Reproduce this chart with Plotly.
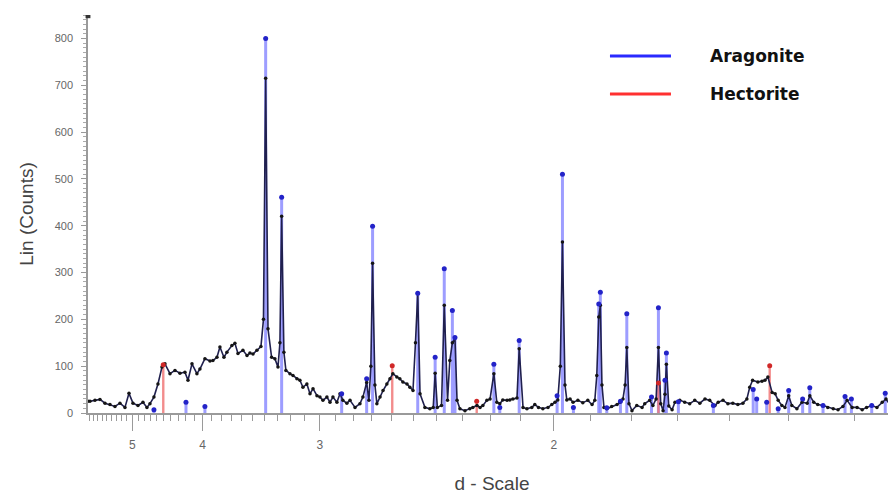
import plotly.graph_objects as go

# ---------------- data (d-spacing in Angstrom, intensity in counts) ----------------
pattern_d = [5.941, 5.891, 5.770, 5.654, 5.542, 5.435, 5.332, 5.233, 5.137, 5.063,
             4.991, 4.904, 4.820, 4.755, 4.707, 4.645, 4.584, 4.525, 4.482, 4.411,
             4.343, 4.277, 4.213, 4.175, 4.126, 4.067, 4.032, 3.975, 3.919, 3.887,
             3.844, 3.813, 3.772, 3.742, 3.693, 3.664, 3.635, 3.589, 3.552, 3.526,
             3.499, 3.465, 3.431, 3.410, 3.392, 3.373, 3.344, 3.318, 3.294, 3.279,
             3.266, 3.249, 3.234, 3.204, 3.182, 3.154, 3.133, 3.112, 3.085, 3.064,
             3.044, 3.018, 2.999, 2.980, 2.955, 2.936, 2.918, 2.894, 2.876, 2.859,
             2.836, 2.818, 2.790, 2.763, 2.747, 2.727, 2.715, 2.705, 2.696, 2.684,
             2.674, 2.658, 2.643, 2.624, 2.609, 2.595, 2.576, 2.562, 2.548, 2.529,
             2.516, 2.502, 2.491, 2.481, 2.471, 2.450, 2.429, 2.415, 2.407, 2.398,
             2.381, 2.370, 2.357, 2.348, 2.338, 2.328, 2.320, 2.309, 2.290, 2.272,
             2.261, 2.246, 2.235, 2.225, 2.211, 2.200, 2.187, 2.177, 2.167, 2.157,
             2.143, 2.134, 2.124, 2.111, 2.104, 2.092, 2.080, 2.065, 2.056, 2.045,
             2.032, 2.017, 2.006, 1.997, 1.989, 1.982, 1.976, 1.969, 1.964, 1.955,
             1.947, 1.934, 1.921, 1.908, 1.897, 1.890, 1.885, 1.880, 1.876, 1.872,
             1.867, 1.860, 1.848, 1.835, 1.828, 1.821, 1.816, 1.812, 1.807, 1.800,
             1.789, 1.777, 1.771, 1.760, 1.753, 1.746, 1.741, 1.736, 1.731, 1.727,
             1.724, 1.719, 1.712, 1.706, 1.696, 1.686, 1.676, 1.666, 1.656, 1.646,
             1.637, 1.627, 1.621, 1.612, 1.603, 1.594, 1.585, 1.576, 1.569, 1.564,
             1.559, 1.550, 1.543, 1.538, 1.533, 1.526, 1.521, 1.516, 1.510, 1.505,
             1.499, 1.494, 1.486, 1.478, 1.470, 1.466, 1.460, 1.454, 1.446, 1.439,
             1.431, 1.424, 1.417, 1.411, 1.404, 1.397, 1.390, 1.384, 1.377, 1.370,
             1.363, 1.358, 1.353, 1.346]
pattern_counts = [25, 25, 27, 29, 21, 18, 14, 21, 12, 42,
                  21, 16, 23, 12, 20, 34, 62, 98, 105, 84,
                  91, 85, 87, 70, 105, 84, 94, 116, 111, 112,
                  119, 141, 119, 130, 144, 149, 127, 134, 123, 128,
                  126, 134, 142, 200, 715, 180, 119, 116, 98, 150,
                  420, 130, 91, 84, 80, 73, 70, 55, 62, 41,
                  52, 37, 34, 27, 34, 23, 34, 23, 41, 27,
                  21, 27, 12, 20, 34, 65, 27, 100, 320, 60,
                  20, 34, 48, 62, 73, 84, 77, 73, 66, 62,
                  55, 48, 150, 255, 41, 12, 9, 12, 85, 12,
                  16, 230, 27, 112, 150, 160, 27, 9, 5, 9,
                  12, 16, 12, 16, 27, 30, 84, 23, 20, 28,
                  27, 28, 30, 32, 137, 12, 9, 12, 18, 12,
                  9, 12, 18, 23, 28, 100, 365, 60, 28, 30,
                  23, 27, 22, 27, 18, 27, 80, 205, 230, 60,
                  12, 9, 14, 18, 23, 30, 60, 140, 20, 5,
                  16, 12, 20, 27, 16, 30, 140, 20, 5, 40,
                  104, 15, 7, 23, 27, 23, 20, 27, 21, 30,
                  27, 16, 23, 27, 20, 21, 18, 21, 30, 55,
                  70, 66, 68, 70, 77, 44, 41, 27, 16, 12,
                  37, 16, 9, 23, 21, 37, 23, 18, 16, 12,
                  9, 7, 14, 27, 12, 12, 7, 12, 16, 12,
                  23, 30, 18, 12]

aragonite_d = [4.645, 4.200, 3.975, 3.392, 3.266, 2.866, 2.727, 2.696, 2.481, 2.407,
               2.370, 2.338, 2.328, 2.187, 2.167, 2.104, 1.991, 1.976, 1.946, 1.880,
               1.876, 1.860, 1.827, 1.812, 1.756, 1.741, 1.727, 1.724, 1.699, 1.630,
               1.558, 1.552, 1.535, 1.516, 1.499, 1.477, 1.466, 1.446, 1.414, 1.405,
               1.377, 1.359, 1.351]
aragonite_counts = [7, 23, 14, 800, 461, 41, 73, 399, 256, 119,
                    308, 219, 161, 104, 12, 155, 37, 510, 12, 233,
                    258, 11, 25, 212, 34, 225, 70, 128, 24, 16,
                    50, 30, 23, 9, 48, 30, 54, 16, 35, 30,
                    16, 42, 16]

hectorite_d = [4.506, 2.598, 2.247, 1.741, 1.530]
hectorite_counts = [103, 101, 25, 64, 101]

major_ticks_d = [5, 4, 3, 2]
major_tick_labels = ["5", "4", "3", "2"]
minor_ticks_d = [round(5.9 - 0.1 * i, 1) for i in range(46)]
y_ticks = [0, 100, 200, 300, 400, 500, 600, 700, 800]
legend_names = ["Aragonite", "Hectorite"]

# ---------------- build figure (x axis linear in 1/d) ----------------
inv = lambda d: 1.0 / d


def sticks(ds, cs):
    xs, ys = [], []
    for d, c in zip(ds, cs):
        xs += [inv(d), inv(d), None]
        ys += [0, c, None]
    return xs, ys


fig = go.Figure()

ax, ay = sticks(aragonite_d, aragonite_counts)
fig.add_trace(go.Scatter(x=ax, y=ay, mode="lines", showlegend=False,
                         line=dict(color="rgba(140,140,255,0.85)", width=3),
                         hoverinfo="skip"))
hx, hy = sticks(hectorite_d, hectorite_counts)
fig.add_trace(go.Scatter(x=hx, y=hy, mode="lines", showlegend=False,
                         line=dict(color="rgba(240,120,120,0.85)", width=2.4),
                         hoverinfo="skip"))

fig.add_trace(go.Scatter(x=[inv(d) for d in pattern_d], y=pattern_counts,
                         mode="lines+markers", showlegend=False,
                         line=dict(color="#20204e", width=1.6),
                         marker=dict(color="#151515", size=3.5)))

fig.add_trace(go.Scatter(x=[inv(d) for d in aragonite_d], y=aragonite_counts,
                         mode="markers", showlegend=False,
                         marker=dict(color="#2323c8", size=5)))
fig.add_trace(go.Scatter(x=[inv(d) for d in hectorite_d], y=hectorite_counts,
                         mode="markers", showlegend=False,
                         marker=dict(color="#d02828", size=5)))

# legend drawn as lines + text
legend_colors = ["#2a2aff", "#ff3030"]
legend_y = [0.897, 0.8015]
for name, col, yy in zip(legend_names, legend_colors, legend_y):
    fig.add_shape(type="line", xref="paper", yref="paper",
                  x0=0.646, x1=0.7215, y0=yy, y1=yy,
                  line=dict(color=col, width=3))
    fig.add_annotation(xref="paper", yref="paper", x=0.767, y=yy,
                       xanchor="left", yanchor="middle", showarrow=False,
                       text="<b>" + name + "</b>",
                       font=dict(family="DejaVu Sans", size=17, color="#111"))

# small marker at the top of the y axis
fig.add_shape(type="rect", xref="paper", yref="paper",
              x0=-0.003, x1=0.003, y0=0.992, y1=1.0,
              line=dict(width=0), fillcolor="#333")

# the page body adds an 8px offset, so the figure is 8px smaller on each side
fig.update_layout(
    width=888, height=486,
    margin=dict(l=80, r=0, t=7, b=81),
    plot_bgcolor="white", paper_bgcolor="white",
    font=dict(family="Liberation Sans", color="#555"),
    xaxis=dict(
        range=[inv(5.94), inv(1.345)],
        automargin=False,
        showgrid=False, zeroline=False,
        showline=True, linecolor="#9a9a9a", linewidth=1.5,
        ticks="outside", ticklen=16, tickcolor="#9a9a9a", tickwidth=1,
        tickmode="array", tickvals=[inv(d) for d in major_ticks_d],
        ticktext=major_tick_labels,
        tickfont=dict(size=12, color="#666"),
        ticklabelstandoff=4,
        minor=dict(tickmode="array", tickvals=[inv(d) for d in minor_ticks_d],
                   ticks="outside", ticklen=6, tickcolor="#9a9a9a", showgrid=False),
        title=dict(text="d - Scale", font=dict(size=19, color="#444"), standoff=26),
    ),
    yaxis=dict(
        range=[0, 850],
        automargin=False,
        showgrid=False, zeroline=False,
        showline=True, linecolor="#9a9a9a", linewidth=1.5,
        ticks="outside", ticklen=5, tickcolor="#9a9a9a",
        tickmode="array", tickvals=y_ticks,
        tickfont=dict(size=11, color="#666"),
        ticklabelstandoff=6,
        minor=dict(dtick=10, ticks="outside", ticklen=3, tickcolor="#aaaaaa", showgrid=False),
        title=dict(text="Lin (Counts)", font=dict(size=19, color="#444"), standoff=16),
    ),
)

fig.write_html("out.html")
